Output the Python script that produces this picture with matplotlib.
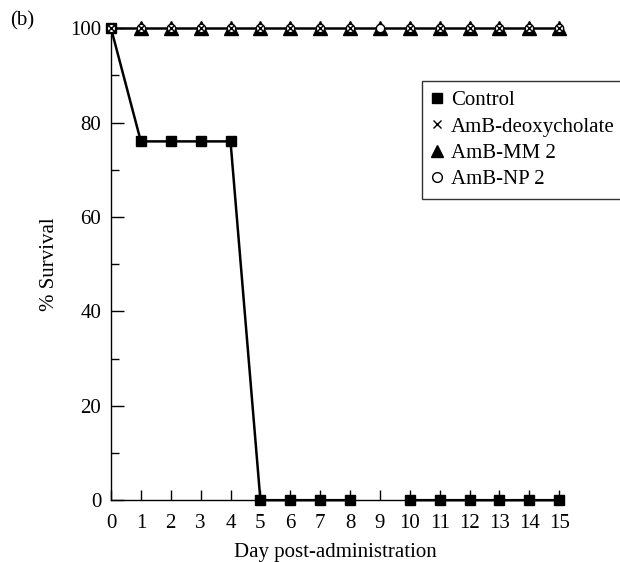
import matplotlib.pyplot as plt
import numpy as np

plt.rcParams['font.family'] = ['Liberation Serif', 'DejaVu Serif']

days = np.arange(0, 16)
control = [100, 76, 76, 76, 76, 0, 0, 0, 0, np.nan, 0, 0, 0, 0, 0, 0]
amb_deoxy = [100, 100, 100, 100, 100, 100, 100, 100, 100, np.nan, 100, 100, 100, 100, 100, 100]
amb_mm2 = [np.nan, 100, 100, 100, 100, 100, 100, 100, 100, 100, 100, 100, 100, 100, 100, 100]
amb_np2 = [100] * 16

fig = plt.figure(figsize=(6.2, 5.62), dpi=100)
ax = fig.add_axes([0.179, 0.110, 0.723, 0.840])

# line through the top series
ax.plot(days, amb_np2, color='black', lw=1.8, zorder=2, clip_on=False)

ax.plot(days, control, color='black', lw=1.8, marker='s', ms=7.5,
        mfc='black', mec='black', zorder=3, clip_on=False, label='Control')
ax.plot(days, amb_mm2, ls='none', marker='^', ms=9.5, mfc='black', mec='black',
        zorder=4, clip_on=False)
ax.plot(days, amb_np2, ls='none', marker='o', ms=6, mfc='white', mec='black',
        mew=1.0, zorder=5, clip_on=False)
ax.plot(days, amb_deoxy, ls='none', marker='x', ms=4, mec='black', mew=1.0,
        zorder=6, clip_on=False)

# legend handles (markers only)
h1, = ax.plot([], [], ls='none', marker='s', ms=7.5, color='black')
h2, = ax.plot([], [], ls='none', marker='x', ms=6, mew=1.0, color='black')
h3, = ax.plot([], [], ls='none', marker='^', ms=8.5, color='black')
h4, = ax.plot([], [], ls='none', marker='o', ms=7, mfc='white', mec='black', mew=1.0)
leg = fig.legend([h1, h2, h3, h4],
                 ['Control', 'AmB-deoxycholate', 'AmB-MM 2', 'AmB-NP 2'],
                 loc='upper left', bbox_to_anchor=(0.680, 0.856),
                 bbox_transform=fig.transFigure, borderaxespad=0,
                 fontsize=15, frameon=True, fancybox=False, edgecolor='black',
                 handlelength=0.6, handletextpad=0.35, labelspacing=0.33,
                 borderpad=0.46)
leg.get_frame().set_linewidth(1.0)

ax.set_xlim(0, 15)
ax.set_ylim(0, 100)
ax.set_xticks(days)
ax.set_yticks(np.arange(0, 101, 20))
ax.set_yticks(np.arange(10, 100, 20), minor=True)
ax.tick_params(axis='both', which='both', direction='in', labelsize=15, width=1.0)
ax.tick_params(axis='y', which='major', length=9, pad=7)
ax.tick_params(axis='y', which='minor', length=6)
ax.tick_params(axis='x', which='major', length=7, pad=10)

for s in ['top', 'right']:
    ax.spines[s].set_visible(False)
for s in ['left', 'bottom']:
    ax.spines[s].set_linewidth(1.0)

ax.set_xlabel('Day post-administration', fontsize=15, labelpad=7)
ax.set_ylabel('% Survival', fontsize=15, labelpad=8)

fig.text(0.016, 0.962, '(b)', fontsize=15, va='center', ha='left')

fig.savefig('out.png', dpi=100)
